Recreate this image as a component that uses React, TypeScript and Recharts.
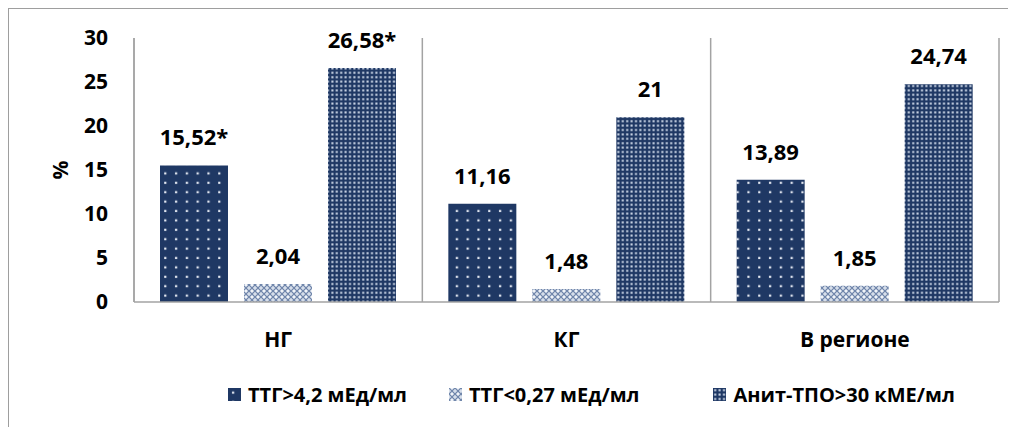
import React from 'react'
import {
  BarChart,
  Bar,
  XAxis,
  YAxis,
  CartesianGrid,
  Legend,
  LabelList,
} from 'recharts'

const categories = ['НГ', 'КГ', 'В регионе']
const tshHigh = [15.52, 11.16, 13.89]
const tshLow = [2.04, 1.48, 1.85]
const antiTpo = [26.58, 21, 24.74]
const tshHighLabels = ['15,52*', '11,16', '13,89']
const tshLowLabels = ['2,04', '1,48', '1,85']
const antiTpoLabels = ['26,58*', '21', '24,74']
const seriesNames = ['ТТГ>4,2 мЕд/мл', 'ТТГ<0,27 мЕд/мл', 'Анит-ТПО>30 кМЕ/мл']
const yTicks = [0, 5, 10, 15, 20, 25, 30]

const data = categories.map((name, i) => ({
  name,
  tshHigh: tshHigh[i],
  tshLow: tshLow[i],
  antiTpo: antiTpo[i],
  l1: tshHighLabels[i],
  l2: tshLowLabels[i],
  l3: antiTpoLabels[i],
}))

const FONT = '"Open Sans", sans-serif'
const GRID = '#a3a3a3'
const patternIds = ['pDots', 'pLattice', 'pGrid']

function Patterns() {
  return (
    <defs>
      <pattern id="pDots" width="10.8" height="9.4" patternUnits="userSpaceOnUse">
        <rect width="10.8" height="9.4" fill="#1f3864" />
        <rect x="4" y="3.5" width="2.2" height="2.2" fill="#e4e9f2" />
      </pattern>
      <pattern id="pLattice" width="6" height="6" patternUnits="userSpaceOnUse">
        <rect width="6" height="6" fill="#d6deea" />
        <path d="M0 0 L6 6 M6 0 L0 6" stroke="#6c82a8" strokeWidth="1.1" />
        <circle cx="3" cy="0" r="0.9" fill="#ffffff" />
        <circle cx="3" cy="6" r="0.9" fill="#ffffff" />
      </pattern>
      <pattern id="pGrid" width="4.4" height="4.4" patternUnits="userSpaceOnUse">
        <rect width="4.4" height="4.4" fill="#1f3864" />
        <rect x="1.2" y="1.2" width="2" height="2" fill="#d3ddec" />
      </pattern>
    </defs>
  )
}

function LegendContent() {
  return (
    <div
      style={{
        display: 'flex',
        alignItems: 'center',
        paddingLeft: 219,
        height: 65,
        fontFamily: FONT,
        fontWeight: 700,
        fontSize: 20,
        color: '#000',
        whiteSpace: 'nowrap',
      }}
    >
      {seriesNames.map((n, i) => (
        <div
          key={n}
          style={{ display: 'flex', alignItems: 'center', flexShrink: 0, marginRight: i === 0 ? 42 : 74 }}
        >
          <svg width={13} height={13} style={{ marginRight: 7 }}>
            <Patterns />
            <rect width={13} height={13} fill={`url(#${patternIds[i]})`} />
          </svg>
          <span>{n}</span>
        </div>
      ))}
    </div>
  )
}

export default function App() {
  return (
    <div
      style={{
        width: 1007,
        height: 418,
        borderTop: '1px solid #9e9e9e',
        borderLeft: '1px solid #9e9e9e',
        background: '#fff',
      }}
    >
      <BarChart
        width={1007}
        height={418}
        data={data}
        margin={{ top: 29, right: 17, bottom: 0, left: 0 }}
        barSize={68}
        barGap={16}
      >
        <Patterns />
        <CartesianGrid
          horizontal={false}
          stroke={GRID}
          strokeWidth={1.5}
          verticalCoordinatesGenerator={({ offset }: any) => [
            offset.left,
            offset.left + offset.width / 3,
            offset.left + (2 * offset.width) / 3,
            offset.left + offset.width,
          ]}
        />
        <XAxis
          dataKey="name"
          height={60}
          tickLine={false}
          tickSize={0}
          tickMargin={30}
          axisLine={{ stroke: GRID, strokeWidth: 1.5 }}
          tick={{ fill: '#000', fontSize: 21, fontWeight: 700, fontFamily: FONT }}
        />
        <YAxis
          width={125}
          domain={[0, 30]}
          ticks={yTicks}
          tickLine={false}
          tickSize={0}
          tickMargin={26}
          axisLine={{ stroke: GRID, strokeWidth: 1.5 }}
          tick={{ fill: '#000', fontSize: 21, fontWeight: 700, fontFamily: FONT }}
          label={{
            value: '%',
            angle: -90,
            position: 'center',
            dx: -11,
            fill: '#000',
            fontSize: 21,
            fontWeight: 700,
            fontFamily: FONT,
          }}
        />
        <Legend verticalAlign="bottom" height={65} content={<LegendContent />} />
        <Bar dataKey="tshHigh" name={seriesNames[0]} fill="url(#pDots)" isAnimationActive={false}>
          <LabelList dataKey="l1" position="top" offset={20} fill="#000" fontSize={22} fontWeight={700} fontFamily={FONT} />
        </Bar>
        <Bar dataKey="tshLow" name={seriesNames[1]} fill="url(#pLattice)" isAnimationActive={false}>
          <LabelList dataKey="l2" position="top" offset={20} fill="#000" fontSize={22} fontWeight={700} fontFamily={FONT} />
        </Bar>
        <Bar dataKey="antiTpo" name={seriesNames[2]} fill="url(#pGrid)" isAnimationActive={false}>
          <LabelList dataKey="l3" position="top" offset={20} fill="#000" fontSize={22} fontWeight={700} fontFamily={FONT} />
        </Bar>
      </BarChart>
    </div>
  )
}
